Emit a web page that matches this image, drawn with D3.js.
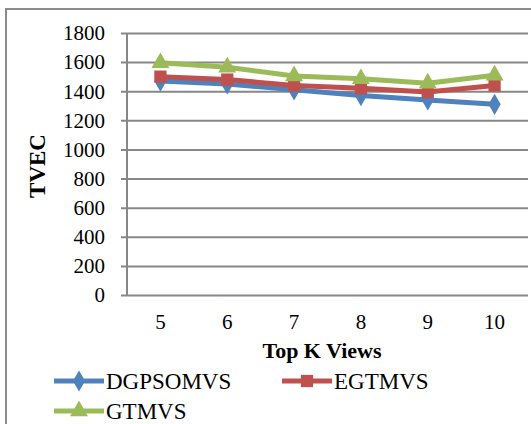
<!DOCTYPE html>
<html>
<head>
<meta charset="utf-8">
<script src="https://cdn.jsdelivr.net/npm/d3@7"></script>
<style>
  html, body { margin: 0; padding: 0; background: #fff; }
</style>
</head>
<body>
<svg id="chart" width="531" height="424"></svg>
<script>
// Top K views on the x axis, TVEC per method
const categories = ["5", "6", "7", "8", "9", "10"];
const yTicks = [0, 200, 400, 600, 800, 1000, 1200, 1400, 1600, 1800];
const dgpsomvs = [1470, 1450, 1410, 1370, 1340, 1310];
const egtmvs = [1500, 1480, 1440, 1420, 1395, 1440];
const gtmvs = [1595, 1565, 1505, 1485, 1455, 1510];

const seriesNames = ["DGPSOMVS", "EGTMVS", "GTMVS"];
const seriesValues = [dgpsomvs, egtmvs, gtmvs];
const colors = ["#4F81BD", "#C0504D", "#9BBB59"];
const markers = ["diamond", "square", "triangle"];

const FONT = "Liberation Serif";
const svg = d3.select("#chart");

// chart frame
svg.append("rect")
  .attr("x", 6).attr("y", 9).attr("width", 540).attr("height", 430)
  .attr("fill", "none").attr("stroke", "#8c8c8c").attr("stroke-width", 2);

const plot = { left: 127, right: 528, top: 33, bottom: 295 };

const x = d3.scaleBand().domain(categories).range([plot.left, plot.right]);
const y = d3.scaleLinear().domain([0, 1800]).range([plot.bottom, plot.top]);

// horizontal gridlines with left tick stubs
svg.append("g")
  .attr("transform", `translate(${plot.left},0)`)
  .call(d3.axisLeft(y).tickValues(yTicks).tickSize(-(plot.right - plot.left)).tickFormat(""))
  .call(g => g.select(".domain").remove())
  .call(g => g.selectAll(".tick line").attr("stroke", "#878787").attr("stroke-width", 2).attr("x1", -6));

// y axis line
svg.append("line")
  .attr("x1", plot.left).attr("x2", plot.left)
  .attr("y1", plot.top).attr("y2", plot.bottom)
  .attr("stroke", "#878787").attr("stroke-width", 2);

// y tick labels
svg.append("g").selectAll("text").data(yTicks).join("text")
  .attr("x", 105).attr("y", d => y(d)).attr("dy", "0.35em")
  .attr("text-anchor", "end").style("font-family", FONT).style("font-size", "21px").attr("fill", "#000")
  .text(d => d);

// x tick labels
svg.append("g").selectAll("text").data(categories).join("text")
  .attr("x", d => x(d) + x.bandwidth() / 2).attr("y", 329)
  .attr("text-anchor", "middle").style("font-family", FONT).style("font-size", "21px").attr("fill", "#000")
  .text(d => d);

// axis titles
svg.append("text")
  .attr("x", 322).attr("y", 358).attr("text-anchor", "middle").style("font-family", FONT)
  .style("font-size", "22px").style("font-weight", "bold").text("Top K Views");

svg.append("text")
  .attr("transform", "translate(45,166) rotate(-90)")
  .attr("text-anchor", "middle").style("font-family", FONT)
  .style("font-size", "23px").style("font-weight", "bold").text("TVEC");

function markerPath(type, size) {
  const sym = { diamond: d3.symbolDiamond, square: d3.symbolSquare, triangle: d3.symbolTriangle }[type];
  return d3.symbol().type(sym).size(size)();
}
const markerSize = { diamond: 130, square: 150, triangle: 140 };

const line = d3.line()
  .x((d, i) => x(categories[i]) + x.bandwidth() / 2)
  .y(d => y(d));

seriesValues.forEach((vals, s) => {
  const g = svg.append("g");
  g.append("path").datum(vals)
    .attr("d", line).attr("fill", "none")
    .attr("stroke", colors[s]).attr("stroke-width", 5)
    .attr("stroke-linejoin", "round");
  g.selectAll("path.pt").data(vals).join("path")
    .attr("class", "pt")
    .attr("transform", (d, i) => `translate(${x(categories[i]) + x.bandwidth() / 2},${y(d)})`)
    .attr("d", markerPath(markers[s], markerSize[markers[s]]))
    .attr("fill", colors[s]);
});

// legend
const legendItems = [
  { x: 54, y: 381 },
  { x: 282, y: 381 },
  { x: 54, y: 411 }
];
legendItems.forEach((p, s) => {
  const g = svg.append("g").attr("transform", `translate(${p.x},${p.y})`);
  g.append("line").attr("x1", 0).attr("x2", 50).attr("y1", 0).attr("y2", 0)
    .attr("stroke", colors[s]).attr("stroke-width", 5);
  g.append("path").attr("transform", "translate(25,0)")
    .attr("d", markerPath(markers[s], markerSize[markers[s]]))
    .attr("fill", colors[s]);
  g.append("text").attr("x", 52).attr("y", 0).attr("dy", "0.35em").style("font-family", FONT)
    .style("font-size", "23px").attr("fill", "#000").text(seriesNames[s]);
});
</script>
</body>
</html>
